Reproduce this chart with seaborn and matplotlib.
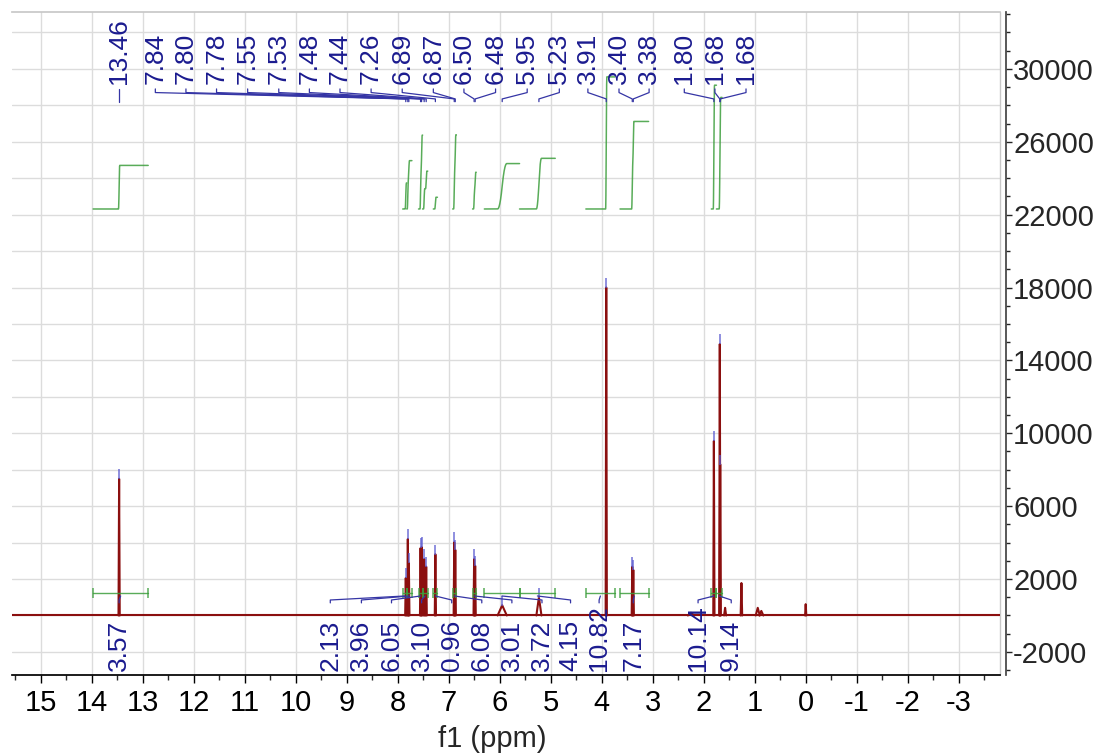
import numpy as np
import pandas as pd
import matplotlib
matplotlib.use("Agg")
import matplotlib.pyplot as plt
from matplotlib.ticker import MultipleLocator
import seaborn as sns

# ---------------- data ----------------
peak_ppm = [13.46, 7.84, 7.80, 7.78, 7.55, 7.53, 7.48, 7.44, 7.26, 6.89, 6.87,
            6.50, 6.48, 5.95, 5.23, 3.91, 3.40, 3.38, 2.25, 1.80, 1.684, 1.676,
            1.58, 1.26, 0.94, 0.87, 0.00]
peak_height = [7500, 2060, 4200, 2880, 3700, 3760, 3100, 2680, 3360, 4020, 3600,
               3100, 2730, 560, 1000, 18000, 2680, 2500, 150, 9580, 14900, 8300,
               420, 1780, 420, 250, 620]
peak_halfwidth = [0.012, 0.012, 0.012, 0.012, 0.012, 0.012, 0.012, 0.012, 0.012, 0.012, 0.012,
                  0.012, 0.012, 0.09, 0.05, 0.012, 0.012, 0.012, 0.06, 0.012, 0.012, 0.012,
                  0.02, 0.015, 0.04, 0.04, 0.012]

# picked peaks (labels at the top)
pick_ppm = [13.46, 7.84, 7.80, 7.78, 7.55, 7.53, 7.48, 7.44, 7.26, 6.89, 6.87,
            6.50, 6.48, 5.95, 5.23, 3.91, 3.40, 3.38, 1.80, 1.684, 1.676]
pick_label_ppm = [13.46, 12.75, 12.15, 11.55, 10.94, 10.33, 9.73, 9.13, 8.52, 7.91, 7.30,
                  6.70, 6.08, 5.46, 4.83, 4.27, 3.66, 3.07, 2.38, 1.78, 1.17]

# integrals
integral_start = [13.97, 7.90, 7.82, 7.59, 7.51, 7.30, 6.92, 6.53, 6.30, 5.61, 4.31, 3.64, 1.85, 1.75]
integral_end = [12.89, 7.82, 7.72, 7.51, 7.41, 7.22, 6.85, 6.46, 5.61, 4.91, 3.74, 3.08, 1.75, 1.64]
integral_value = [3.57, 2.13, 3.96, 6.05, 3.10, 0.96, 6.08, 3.01, 3.72, 4.15, 10.82, 7.17, 10.14, 9.14]
integral_label_ppm = [13.46, 9.32, 8.71, 8.12, 7.53, 6.94, 6.35, 5.76, 5.17, 4.61, 4.05, 3.38, 2.11, 1.46]

x_ticks = [15, 14, 13, 12, 11, 10, 9, 8, 7, 6, 5, 4, 3, 2, 1, 0, -1, -2, -3]
y_ticks = [-2000, 2000, 6000, 10000, 14000, 18000, 22000, 26000, 30000]

# ---------------- styles ----------------
RED = "#8b0f0f"
BLUE = "#1b1b8f"
BLUE_LINE = "#3535a5"
GREEN = "#3c9e3c"
GRID = "#dcdcdc"
XLIM = (15.56, -3.81)
YLIM = (-3266, 33123)

sns.set_theme(style="white")
plt.rcParams["font.family"] = ["Liberation Sans", "DejaVu Sans"]
plt.rcParams["axes.unicode_minus"] = False

fig = plt.figure(figsize=(11.01, 7.53), dpi=100)
ax = fig.add_axes([0.0109, 0.1036, 0.8974, 0.8805])
ax.set_xlim(*XLIM)
ax.set_ylim(*YLIM)

# grid
for g in np.arange(-2000, 33000, 2000):
    ax.axhline(g, color=GRID, lw=1, zorder=0)
ax.set_xticks(x_ticks)
ax.set_xticklabels([str(t) for t in x_ticks])
ax.grid(axis="x", which="major", color=GRID, lw=1, zorder=0)
ax.set_axisbelow(True)

# ---------------- spectrum ----------------
rows = [dict(unit=-1, ppm=XLIM[0], inten=0.0), dict(unit=-1, ppm=XLIM[1], inten=0.0)]
for i, (p, h, w) in enumerate(zip(peak_ppm, peak_height, peak_halfwidth)):
    rows += [dict(unit=i, ppm=p + w, inten=0.0),
             dict(unit=i, ppm=p, inten=h),
             dict(unit=i, ppm=p - w, inten=0.0)]
spec = pd.DataFrame(rows)
sns.lineplot(data=spec, x="ppm", y="inten", units="unit", estimator=None, sort=False,
             color=RED, lw=1.5, ax=ax, zorder=3, legend=False)

# peak-pick markers
pick_h = [peak_height[peak_ppm.index(p)] for p in pick_ppm]
ax.plot(pick_ppm, [h + 260 for h in pick_h], ls="none", marker="|", ms=7, mew=1.2,
        color="#5a5ad0", alpha=0.8, zorder=4)


def spectrum_at(x):
    y = np.zeros_like(x)
    for p, h, w in zip(peak_ppm, peak_height, peak_halfwidth):
        y += h * np.clip(1 - np.abs(x - p) / w, 0, None)
    return y


# ---------------- integrals ----------------
INT_BASE = 22310
INT_SCALE = 670
for s, e, v in zip(integral_start, integral_end, integral_value):
    xs = np.linspace(s, e, 900)
    c = np.cumsum(spectrum_at(xs))
    c = c / c[-1]
    sns.lineplot(x=xs, y=INT_BASE + v * INT_SCALE * c, sort=False, color=GREEN,
                 lw=1.1, alpha=0.85, ax=ax, zorder=3)
    ax.plot([s, e], [1235, 1235], color=GREEN, lw=1, marker="|", ms=7, mew=1.1,
            alpha=0.85, zorder=4)

for s, e, v, lx in zip(integral_start, integral_end, integral_value, integral_label_ppm):
    c = (s + e) / 2
    ax.plot([c, lx, lx], [1070, 850, 690], color=BLUE_LINE, lw=0.9, zorder=4)
    ax.text(lx, -3040, f"{v:.2f}", rotation=90, ha="center", va="bottom",
            fontsize=19, color=BLUE, zorder=5)

# ---------------- peak labels ----------------
for p, lx in zip(pick_ppm, pick_label_ppm):
    ax.plot([lx, lx, p, p], [28900, 28700, 28350, 28200], color=BLUE_LINE, lw=0.9, zorder=4)
    ax.text(lx, 29150, f"{p:.2f}", rotation=90, ha="center", va="bottom",
            fontsize=19, color=BLUE, zorder=5)

# ---------------- axes ----------------
ax.xaxis.set_minor_locator(MultipleLocator(0.5))
ax.tick_params(axis="x", which="major", direction="out", length=6, width=1,
               labelsize=21, pad=4, bottom=True, colors="black")
ax.tick_params(axis="x", which="minor", direction="out", length=3.5, width=1, bottom=True)

ax.yaxis.tick_right()
ax.set_yticks(y_ticks)
ax.set_yticklabels([str(t) for t in y_ticks])
ax.yaxis.set_minor_locator(MultipleLocator(1000))
ax.tick_params(axis="y", which="major", direction="out", length=4.5, width=1,
               labelsize=21, pad=1, right=True, left=False)
ax.tick_params(axis="y", which="minor", direction="out", length=3, width=1,
               right=True, left=False)

for side in ["left"]:
    ax.spines[side].set_visible(False)
ax.spines["top"].set_color("#c8c8c8")
ax.spines["bottom"].set_color("black")
ax.spines["right"].set_color("#444444")
ax.spines["right"].set_position(("outward", 4))
ax.plot([1, 1], [0, 1], transform=ax.transAxes, color="#c8c8c8", lw=1, clip_on=False)

ax.set_ylabel("")
ax.set_xlabel("f1 (ppm)", fontsize=21)
ax.xaxis.set_label_coords(0.486, -0.075)

fig.savefig("out.png", dpi=100)
